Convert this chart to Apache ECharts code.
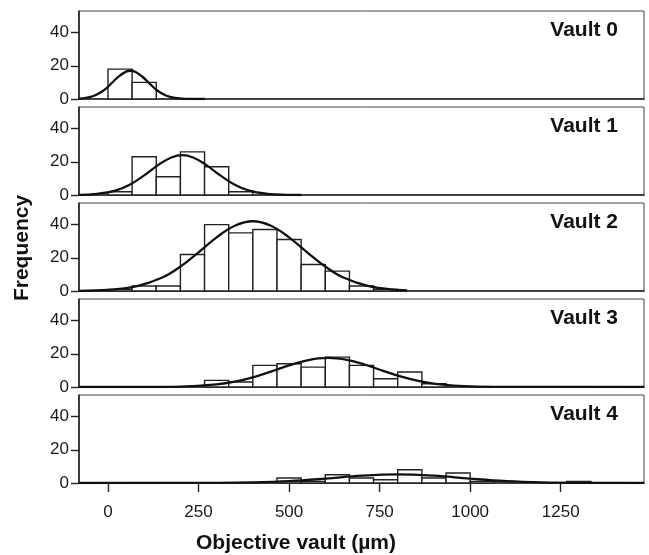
<!DOCTYPE html>
<html>
<head>
<meta charset="utf-8">
<script src="https://cdn.jsdelivr.net/npm/echarts@6/dist/echarts.min.js"></script>
<style>
html,body{margin:0;padding:0;background:#fff;}
#chart{width:649px;height:555px;}
</style>
</head>
<body>
<div id="chart"></div>
<script>
// ---- Data ----
const panelNames = ['Vault 0', 'Vault 1', 'Vault 2', 'Vault 3', 'Vault 4'];
const binWidth = 66.67; // histogram bin width (µm)
// counts per bin, bins start at 0 µm
const vault0Counts = [18, 10];
const vault1Counts = [2, 23, 11, 26, 17, 2];
const vault2Counts = [1, 3, 3, 22, 40, 35, 37, 31, 16, 12, 3, 1];
const vault3Counts = [0, 0, 0, 0, 4, 3, 13, 14, 12, 18, 13, 5, 9, 2];
const vault4Counts = [0, 0, 0, 0, 0, 0, 0, 3, 1, 5, 3, 2, 8, 3, 6, 1, 0, 0, 0, 1];

// fitted normal curves [x µm, frequency]
const vault0Curve = [[-80,0.2],[-40,1.8],[-10,5.5],[10,9.5],[30,13.6],[50,16.5],[62,17],[75,16.4],[95,13.4],[115,9.3],[135,5.3],[160,2.1],[185,0.6],[215,0.1],[267,0]];
const vault1Curve = [[-80,0.1],[-30,0.7],[20,2.6],[60,6.2],[100,11.8],[140,18.3],[175,22.6],[205,24],[235,22.6],[270,18.3],[310,11.8],[350,6.2],[390,2.6],[440,0.7],[490,0.1],[534,0]];
const vault2Curve = [[-80,0.1],[0,0.6],[80,2.9],[150,8.1],[200,14.7],[250,23.3],[300,32.3],[350,39.3],[400,42],[450,39.3],[500,32.3],[550,23.3],[600,14.7],[650,8.1],[720,2.9],[800,0.6],[826,0.3]];
const vault3Curve = [[-80,0],[100,0],[200,0.25],[300,1.6],[350,3.2],[400,5.8],[450,9.3],[500,13],[550,16.1],[608,17.5],[660,16.3],[710,13.4],[760,9.7],[810,6.2],[860,3.5],[910,1.7],[1000,0.35],[1100,0.04],[1480,0]];
const vault4Curve = [[-80,0],[300,0.07],[400,0.33],[500,1.1],[600,2.6],[700,4.4],[800,5.2],[900,4.4],[1000,2.6],[1100,1.1],[1200,0.33],[1300,0.07],[1480,0]];

const xTickLabels = [0, 250, 500, 750, 1000, 1250];
const xTitle = 'Objective vault (µm)';
const yTitle = 'Frequency';

const allCounts = [vault0Counts, vault1Counts, vault2Counts, vault3Counts, vault4Counts];
const allCurves = [vault0Curve, vault1Curve, vault2Curve, vault3Curve, vault4Curve];

// ---- Chart ----
const FONT = 'Liberation Sans, Arial, Helvetica, sans-serif';
const chart = echarts.init(document.getElementById('chart'), null, {renderer: 'canvas'});

const grids = [], xAxes = [], yAxes = [], series = [], graphics = [];
const PT = 11, PSTEP = 96, PH = 88;

panelNames.forEach((name, i) => {
  const isLast = i === panelNames.length - 1;
  grids.push({left: 79, right: 5, top: PT + PSTEP * i, height: PH,
    show: true, borderColor: '#444', borderWidth: 1, backgroundColor: '#fff'});
  xAxes.push({
    type: 'value', gridIndex: i, min: -80, max: 1480,
    splitLine: {show: false},
    axisLine: {show: true, onZero: false, lineStyle: {color: '#222', width: 1.6}},
    axisTick: {show: isLast, length: 9, lineStyle: {color: '#222', width: 1.4}, customValues: xTickLabels},
    axisLabel: {show: isLast, customValues: xTickLabels, formatter: v => String(v),
      fontFamily: FONT, fontSize: 17, color: '#1a1a1a', margin: 21}
  });
  yAxes.push({
    type: 'value', gridIndex: i, min: 0, max: 53, interval: 20,
    splitLine: {show: false},
    axisLine: {show: true, onZero: false, lineStyle: {color: '#222', width: 1.6}},
    axisTick: {show: true, length: 8, lineStyle: {color: '#222', width: 1.4}},
    axisLabel: {fontFamily: FONT, fontSize: 17, color: '#1a1a1a', margin: 10, showMaxLabel: false}
  });
  const data = [];
  allCounts[i].forEach((c, k) => { if (c > 0) data.push([k * binWidth, (k + 1) * binWidth, c]); });
  series.push({
    type: 'custom', xAxisIndex: i, yAxisIndex: i,
    encode: {x: [0, 1], y: 2},
    data: data,
    renderItem: function (params, api) {
      const p0 = api.coord([api.value(0), 0]);
      const p1 = api.coord([api.value(1), api.value(2)]);
      return {type: 'rect',
        shape: {x: p0[0], y: p1[1], width: p1[0] - p0[0], height: p0[1] - p1[1]},
        style: {fill: '#fff', stroke: '#222', lineWidth: 1.4}};
    },
    z: 2, silent: true
  });
  series.push({
    type: 'line', xAxisIndex: i, yAxisIndex: i,
    data: allCurves[i], smooth: 0.4, showSymbol: false,
    lineStyle: {color: '#111', width: 2.3}, z: 3, silent: true
  });
  graphics.push({type: 'text', x: 618, y: PT + PSTEP * i + 19, z: 10,
    style: {text: name, fontFamily: FONT, fontSize: 21, fontWeight: 'bold', fill: '#111',
      align: 'right', verticalAlign: 'middle'}});
});

graphics.push({type: 'text', x: 296, y: 543, z: 10,
  style: {text: xTitle, fontFamily: FONT, fontSize: 21, fontWeight: 'bold', fill: '#111',
    align: 'center', verticalAlign: 'middle'}});
graphics.push({type: 'text', x: 22, y: 248, rotation: Math.PI / 2, z: 10,
  style: {text: yTitle, fontFamily: FONT, fontSize: 21, fontWeight: 'bold', fill: '#111',
    align: 'center', verticalAlign: 'middle'}});

chart.setOption({
  animation: false,
  backgroundColor: '#fff',
  grid: grids,
  xAxis: xAxes,
  yAxis: yAxes,
  series: series,
  graphic: graphics
});
</script>
</body>
</html>
